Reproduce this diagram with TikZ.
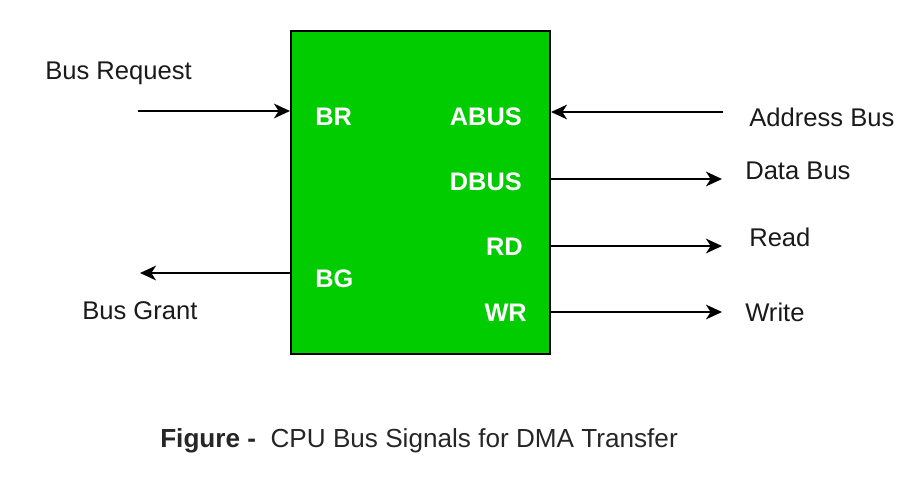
\documentclass[tikz,border=0pt]{standalone}
\usepackage{fontspec}
\setmainfont{Liberation Sans}
\usetikzlibrary{arrows.meta}
\definecolor{cpugreen}{HTML}{00CC00}
\definecolor{txtgray}{HTML}{1A1A1A}
\begin{document}
\begin{tikzpicture}[x=0.75pt,y=-0.75pt,
  lbl/.style={inner sep=0pt,font=\fontsize{19.2}{23}\selectfont,text=txtgray},
  pin/.style={inner sep=0pt,font=\fontsize{19}{23}\selectfont\bfseries,text=white},
  sig/.style={line width=1.5pt,-{Stealth[length=12pt,width=11pt,inset=3.5pt]}},
  cpubox/.style={draw=black,line width=1.5pt,fill=cpugreen,minimum width=259*0.75pt,minimum height=323*0.75pt,inner sep=0pt}]
\useasboundingbox (0,0) rectangle (909,478);
\node[cpubox,anchor=north west] (cpu) at (290,30) {};
% pin labels
\node[pin,anchor=west] (br) at (315,117) {BR};
\node[pin,anchor=west] (bg) at (315,279) {BG};
\node[pin,anchor=east] (abus) at (522,117) {ABUS};
\node[pin,anchor=east] (dbus) at (522,182) {DBUS};
\node[pin,anchor=east] (rd) at (523,247) {RD};
\node[pin,anchor=east] (wr) at (527,313) {WR};
% outer labels
\node[lbl,anchor=west] (lbr) at (45,73) {Bus Request};
\node[lbl,anchor=west] (lbg) at (82,311) {Bus Grant};
\node[lbl,anchor=west] (lab) at (749,117) {Address Bus};
\node[lbl,anchor=west] (ldb) at (745,171) {Data Bus};
\node[lbl,anchor=west] (lrd) at (749,237) {Read};
\node[lbl,anchor=west] (lwr) at (745,312) {Write};
% free ends
\coordinate (brS) at (138,111);
\coordinate (bgE) at (140,273);
\coordinate (abS) at (723,112);
\coordinate (dbE) at (722,179);
\coordinate (rdE) at (722,246);
\coordinate (wrE) at (722,312);
% connectors
\draw[sig] (brS) -- (brS -| cpu.west);
\draw[sig] (bgE -| cpu.west) -- (bgE);
\draw[sig] (abS) -- (abS -| cpu.east);
\draw[sig] (dbE -| cpu.east) -- (dbE);
\draw[sig] (rdE -| cpu.east) -- (rdE);
\draw[sig] (wrE -| cpu.east) -- (wrE);
% caption
\node[lbl,anchor=west,text=black!85,font=\fontsize{19.6}{23}\selectfont] (cap) at (160,441) {\textbf{Figure -}\ \ CPU Bus Signals for DMA Transfer};
\end{tikzpicture}
\end{document}
